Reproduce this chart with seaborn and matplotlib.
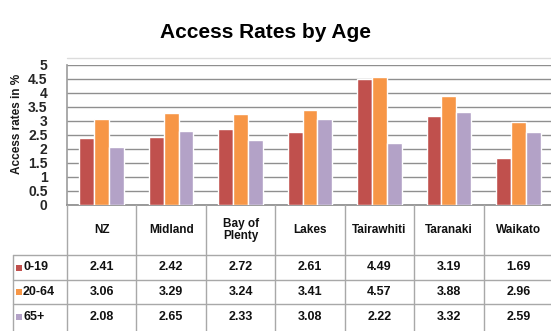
import matplotlib
matplotlib.use("Agg")
import matplotlib.pyplot as plt
from matplotlib.lines import Line2D
from matplotlib.patches import Rectangle
from matplotlib import font_manager
import seaborn as sns
import pandas as pd

categories = ["NZ", "Midland", "Bay of\nPlenty", "Lakes", "Tairawhiti", "Taranaki", "Waikato"]
age_groups = ["0-19", "20-64", "65+"]
rates_0_19 = [2.41, 2.42, 2.72, 2.61, 4.49, 3.19, 1.69]
rates_20_64 = [3.06, 3.29, 3.24, 3.41, 4.57, 3.88, 2.96]
rates_65 = [2.08, 2.65, 2.33, 3.08, 2.22, 3.32, 2.59]
yticks = [0, 0.5, 1, 1.5, 2, 2.5, 3, 3.5, 4, 4.5, 5]
ytick_labels = ["0", "0.5", "1", "1.5", "2", "2.5", "3", "3.5", "4", "4.5", "5"]
colors = ["#C0504D", "#F79646", "#B3A2C7"]

series = [rates_0_19, rates_20_64, rates_65]
rows = []
for g, vals in zip(age_groups, series):
    for c, v in zip(categories, vals):
        rows.append({"Region": c, "Age": g, "Rate": v})
df = pd.DataFrame(rows)

sns.set_theme(style="white")
names = {f.name for f in font_manager.fontManager.ttflist}
cond = [n for n in ["Liberation Sans Narrow", "DejaVu Sans Condensed"] if n in names]
FONT = cond + ["Liberation Sans", "DejaVu Sans"]
plt.rcParams["font.family"] = FONT
narrow = bool(cond)

W, H = 551, 331
fig = plt.figure(figsize=(W / 100, H / 100), dpi=100)
fig.patch.set_facecolor("white")

def fx(px):
    return px / W

def fy(py):
    return 1 - py / H

ax_left, ax_right, ax_top, ax_bottom = 67, 553, 65, 205
ax = fig.add_axes([fx(ax_left), fy(ax_bottom), (ax_right - ax_left) / W, (ax_bottom - ax_top) / H])
sns.barplot(data=df, x="Region", y="Rate", hue="Age", palette=colors, width=0.64,
            saturation=1, ax=ax, legend=False, zorder=3)
ax.set_ylim(0, 5)
ax.set_xlim(-0.5, len(categories) - 0.5)
ax.set_yticks(yticks)
ax.set_yticklabels(ytick_labels, fontsize=10, fontweight="bold")
ax.tick_params(axis="y", length=0, pad=14)
ax.set_xticks([])
ax.set_xlabel("")
ax.set_ylabel("")
ax.yaxis.grid(True, color="#8f8f8f", lw=1)
ax.set_axisbelow(True)
for s in ["top", "right"]:
    ax.spines[s].set_visible(False)
ax.spines["left"].set_color("#a0a0a0")
ax.spines["bottom"].set_color("#8f8f8f")

fig.text(fx(17), fy(124), "Access rates in %", rotation=90, ha="center", va="center",
         fontsize=8.5, fontweight="bold", color="#1a1a1a")

fig.text(fx(265), fy(32), "Access Rates by Age", ha="center", va="center",
         fontsize=18 if narrow else 15, fontweight="heavy", color="#000000")

# light chart border line above the plot
fig.add_artist(Line2D([fx(ax_left), fx(W)], [fy(58), fy(58)], color="#dcdcdc", lw=1))

# data table
line_c = "#a8a8a8"
ncol = len(categories)
colw = (ax_right - ax_left) / ncol
edges = [ax_left + i * colw for i in range(ncol + 1)]
for e in edges:
    fig.add_artist(Line2D([fx(e), fx(e)], [fy(ax_bottom), fy(H)], color=line_c, lw=1))
fig.add_artist(Line2D([fx(13), fx(13)], [fy(255), fy(H)], color=line_c, lw=1))
row_lines = [255, 280, 304]
for r in row_lines:
    fig.add_artist(Line2D([fx(13), fx(W)], [fy(r), fy(r)], color=line_c, lw=1))

tfs = 9.5 if narrow else 8.5
for i, c in enumerate(categories):
    cx = edges[i] + colw / 2
    fig.text(fx(cx), fy(230), c, ha="center", va="center", fontsize=tfs,
             fontweight="bold", linespacing=1.1, color="#111111")

row_centers = [267.5, 292, 316.5]
for g, vals, col, rc in zip(age_groups, series, colors, row_centers):
    fig.add_artist(Rectangle((fx(16), fy(rc + 3)), 6 / W, 6 / H, transform=fig.transFigure,
                             facecolor=col, edgecolor="none"))
    fig.text(fx(23), fy(rc), g, ha="left", va="center", fontsize=tfs + 0.5,
             fontweight="bold", color="#111111")
    for i, v in enumerate(vals):
        cx = edges[i] + colw / 2
        fig.text(fx(cx), fy(rc), f"{v:.2f}", ha="center", va="center", fontsize=tfs + 0.5,
                 fontweight="bold", color="#111111")

fig.savefig("out.png", dpi=100, facecolor="white")
